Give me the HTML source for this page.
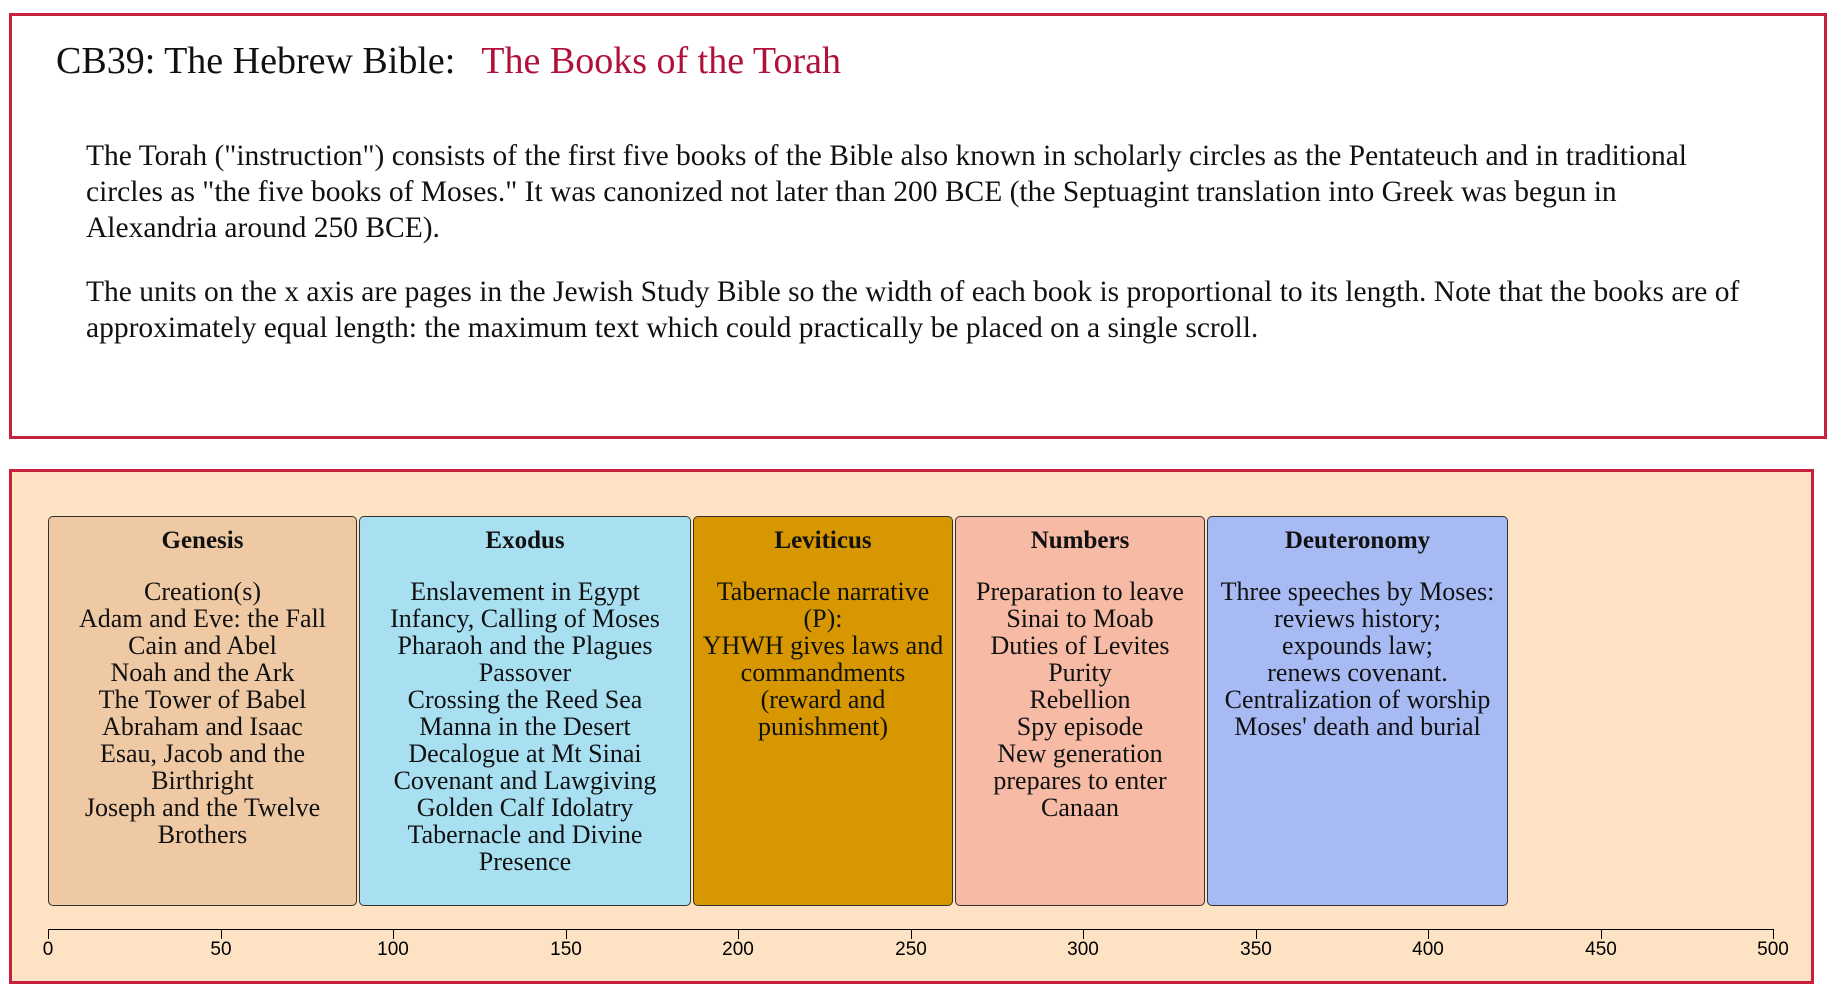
<!DOCTYPE html>
<html><head><meta charset="utf-8"><style>
body{margin:0;width:1828px;height:995px;background:#fff;position:relative;overflow:hidden;font-family:"Liberation Serif",serif;}
.top{position:absolute;left:9px;top:13px;width:1818px;height:426px;border:3px solid #c8203c;box-sizing:border-box;}
.title{position:absolute;left:56px;top:39px;font-size:38px;color:#111;white-space:nowrap;}
.title span{color:#b0103a;margin-left:26px;}
.p{position:absolute;left:86px;font-size:29.5px;line-height:36px;color:#111;white-space:nowrap;}
.bot{position:absolute;left:9px;top:469px;width:1805px;height:515px;border:3px solid #c8203c;box-sizing:border-box;background:#fde3c3;}
.b{position:absolute;top:516px;height:390px;border:1.5px solid #333;border-radius:5px;box-sizing:border-box;text-align:center;font-size:26px;line-height:27px;color:#111;white-space:nowrap;}
.b h{display:block;font-weight:bold;font-size:25px;margin-top:10px;margin-bottom:24px;}
.ax{position:absolute;top:929px;height:1px;left:48px;width:1726px;background:#000;}
.t{position:absolute;top:929px;width:1px;height:10px;background:#000;}
.l{position:absolute;top:939px;font-family:"Liberation Sans",sans-serif;font-size:19px;width:60px;margin-left:-30px;text-align:center;}
</style></head><body>
<div class="top"></div>
<div class="title">CB39: The Hebrew Bible:<span>The Books of the Torah</span></div>
<div class="p" style="top:138px">The Torah ("instruction") consists of the first five books of the Bible also known in scholarly circles as the Pentateuch and in traditional<br>circles as "the five books of Moses." It was canonized not later than 200 BCE (the Septuagint translation into Greek was begun in<br>Alexandria around 250 BCE).</div>
<div class="p" style="top:274px">The units on the x axis are pages in the Jewish Study Bible so the width of each book is proportional to its length. Note that the books are of<br>approximately equal length: the maximum text which could practically be placed on a single scroll.</div>
<div class="bot"></div>
<div class="b" style="left:48px;width:309px;background:#eec9a3"><h>Genesis</h>Creation(s)<br>Adam and Eve: the Fall<br>Cain and Abel<br>Noah and the Ark<br>The Tower of Babel<br>Abraham and Isaac<br>Esau, Jacob and the<br>Birthright<br>Joseph and the Twelve<br>Brothers</div>
<div class="b" style="left:359px;width:332px;background:#a8e0f2"><h>Exodus</h>Enslavement in Egypt<br>Infancy, Calling of Moses<br>Pharaoh and the Plagues<br>Passover<br>Crossing the Reed Sea<br>Manna in the Desert<br>Decalogue at Mt Sinai<br>Covenant and Lawgiving<br>Golden Calf Idolatry<br>Tabernacle and Divine<br>Presence</div>
<div class="b" style="left:693px;width:260px;background:#d79700"><h>Leviticus</h>Tabernacle narrative<br>(P):<br>YHWH gives laws and<br>commandments<br>(reward and<br>punishment)</div>
<div class="b" style="left:955px;width:250px;background:#f6baa5"><h>Numbers</h>Preparation to leave<br>Sinai to Moab<br>Duties of Levites<br>Purity<br>Rebellion<br>Spy episode<br>New generation<br>prepares to enter<br>Canaan</div>
<div class="b" style="left:1207px;width:301px;background:#a8baf4"><h>Deuteronomy</h>Three speeches by Moses:<br>reviews history;<br>expounds law;<br>renews covenant.<br>Centralization of worship<br>Moses' death and burial</div>
<div class="ax"></div>
<div class="t" style="left:48px"></div><div class="l" style="left:48px">0</div>
<div class="t" style="left:221px"></div><div class="l" style="left:221px">50</div>
<div class="t" style="left:393px"></div><div class="l" style="left:393px">100</div>
<div class="t" style="left:566px"></div><div class="l" style="left:566px">150</div>
<div class="t" style="left:738px"></div><div class="l" style="left:738px">200</div>
<div class="t" style="left:911px"></div><div class="l" style="left:911px">250</div>
<div class="t" style="left:1083px"></div><div class="l" style="left:1083px">300</div>
<div class="t" style="left:1256px"></div><div class="l" style="left:1256px">350</div>
<div class="t" style="left:1428px"></div><div class="l" style="left:1428px">400</div>
<div class="t" style="left:1601px"></div><div class="l" style="left:1601px">450</div>
<div class="t" style="left:1773px"></div><div class="l" style="left:1773px">500</div>
</body></html>
